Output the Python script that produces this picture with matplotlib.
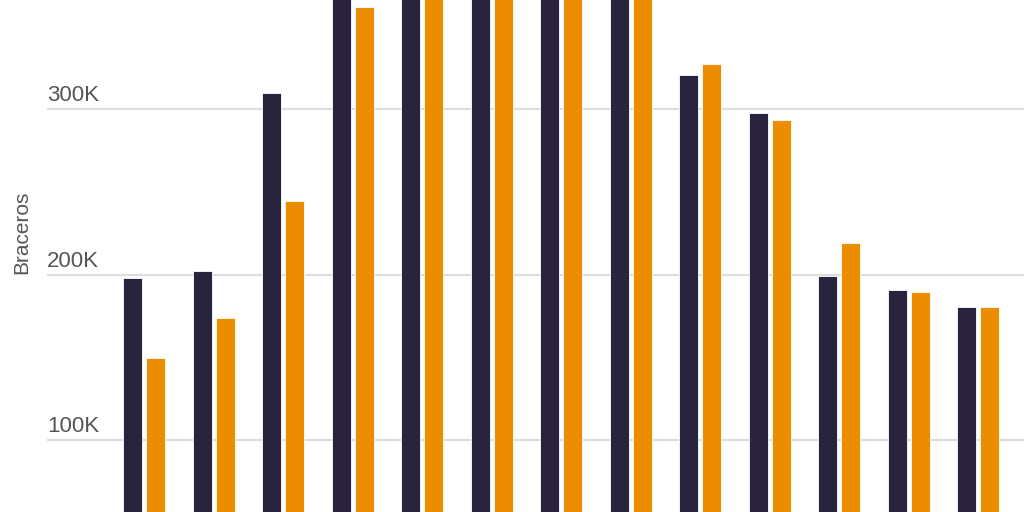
import matplotlib
matplotlib.use("Agg")
import matplotlib.pyplot as plt
import matplotlib.transforms as mtransforms
import numpy as np

plt.rcParams['font.family'] = ['Liberation Sans', 'DejaVu Sans']

years = [str(y) for y in range(1952, 1965)]
series_a = [198.1, 202.3, 309.7, 398.7, 445.2, 436.0, 432.9, 437.6, 320.5, 297.6, 199.3, 190.6, 180.4]
series_b = [149.7, 173.5, 244.2, 361.8, 430.0, 440.0, 440.0, 440.0, 327.0, 293.5, 218.9, 189.6, 180.4]
series_a = [v * 1000 for v in series_a]
series_b = [v * 1000 for v in series_b]
ytick_vals = [100000, 200000, 300000]
ytick_labels = ["100K", "200K", "300K"]

dark = "#29233e"
orange = "#ec8c00"

fig = plt.figure(figsize=(10.24, 5.12), dpi=100)
ax = fig.add_axes([47 / 1024, 0, 1 - 47 / 1024, 1])

x = np.arange(len(years))
w = 0.273
off = 0.165
ax.bar(x - off, series_a, width=w, color=dark, edgecolor="white", linewidth=0.6, zorder=3)
ax.bar(x + off, series_b, width=w, color=orange, edgecolor="white", linewidth=0.6, zorder=3)

ax.set_xlim(-1.397, 12.661)
ax.set_ylim(56500, 365900)

ax.set_yticks(ytick_vals)
ax.yaxis.grid(True, color="#dddddd", linewidth=1.5, zorder=0)
ax.tick_params(axis="y", length=0, labelleft=False)
ax.set_xticks(x)
ax.tick_params(axis="x", length=0, labelbottom=False)
for s in ax.spines.values():
    s.set_visible(False)

trans = mtransforms.blended_transform_factory(ax.transAxes, ax.transData)
offset = mtransforms.ScaledTranslation(0, 3 / 100, fig.dpi_scale_trans)
for v, lab in zip(ytick_vals, ytick_labels):
    ax.text(0, v, lab, transform=trans + offset, ha="left", va="bottom",
            fontsize=16, color="#555555", zorder=5)

fig.text(22 / 1024, 1 - 232 / 512, "Braceros", rotation=90, ha="center", va="center",
         fontsize=15, color="#555555")

fig.savefig("out.png", dpi=100)
